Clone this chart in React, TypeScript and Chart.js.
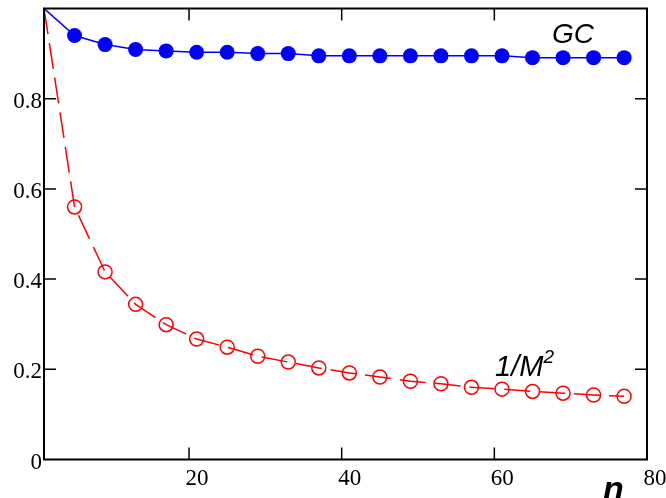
import React, { useEffect, useRef } from "react";
import { Chart, registerables } from "chart.js";

Chart.register(...registerables);

const nValues = [1, 5, 9, 13, 17, 21, 25, 29, 33, 37, 41, 45, 49, 53, 57, 61, 65, 69, 73, 77];
const gcValues = [1.0, 0.940, 0.920, 0.909, 0.906, 0.903, 0.903, 0.900, 0.900, 0.895, 0.895, 0.895, 0.895, 0.895, 0.895, 0.895, 0.891, 0.891, 0.891, 0.891];
const invM2Values = [1.0, 0.560, 0.416, 0.344, 0.299, 0.267, 0.249, 0.229, 0.216, 0.203, 0.192, 0.183, 0.1735, 0.168, 0.160, 0.156, 0.151, 0.147, 0.143, 0.140];
const xTickValues = [20, 40, 60, 80];
const yTickValues = [0, 0.2, 0.4, 0.6, 0.8];
const xMin = 1;
const xMax = 80;
const yMin = 0;
const yMax = 1;

const SERIF = "'Liberation Serif', 'DejaVu Serif', serif";
const SANS = "'Liberation Sans', Arial, sans-serif";

const framePlugin = {
  id: "frameAndTicks",
  afterDatasetsDraw(chart: any) {
    const { ctx, chartArea } = chart;
    const xs = chart.scales.x;
    const ys = chart.scales.y;
    const { left, right, top, bottom } = chartArea;
    ctx.save();
    ctx.strokeStyle = "#000";
    ctx.lineWidth = 1.5;
    const tl = 12;
    xTickValues.forEach((v) => {
      if (v <= xMin || v >= xMax) return;
      const px = xs.getPixelForValue(v);
      ctx.beginPath();
      ctx.moveTo(px, bottom);
      ctx.lineTo(px, bottom - tl);
      ctx.moveTo(px, top);
      ctx.lineTo(px, top + tl);
      ctx.stroke();
    });
    yTickValues.forEach((v) => {
      if (v <= yMin || v >= yMax) return;
      const py = ys.getPixelForValue(v);
      ctx.beginPath();
      ctx.moveTo(left, py);
      ctx.lineTo(left + tl, py);
      ctx.moveTo(right, py);
      ctx.lineTo(right - tl, py);
      ctx.stroke();
    });
    ctx.lineWidth = 2;
    ctx.strokeRect(left, top, right - left, bottom - top);

    // annotations
    ctx.fillStyle = "#000";
    ctx.textBaseline = "alphabetic";
    ctx.font = `italic 28px ${SANS}`;
    ctx.textAlign = "center";
    ctx.fillText("GC", xs.getPixelForValue(70.3), ys.getPixelForValue(0.924));

    ctx.textAlign = "left";
    const mx = xs.getPixelForValue(60.1);
    const my = ys.getPixelForValue(0.1854);
    ctx.font = `italic 29px ${SANS}`;
    ctx.fillText("1/M", mx, my);
    const w = ctx.measureText("1/M").width;
    ctx.font = `italic 19px ${SANS}`;
    ctx.fillText("2", mx + w, my - 13);

    ctx.font = `bold italic 34px ${SANS}`;
    ctx.textAlign = "center";
    ctx.fillText("n", xs.getPixelForValue(75.6), bottom + 40);
    ctx.restore();
  },
};

export default function App() {
  const canvasRef = useRef<HTMLCanvasElement | null>(null);

  useEffect(() => {
    document.body.style.margin = "0";
    const canvas = canvasRef.current;
    if (!canvas) return;
    const chart = new Chart(canvas, {
      type: "line",
      data: {
        datasets: [
          {
            label: "GC",
            data: nValues.map((n, i) => ({ x: n, y: gcValues[i] })),
            borderColor: "#0000ff",
            backgroundColor: "#0000ff",
            borderWidth: 1.5,
            pointRadius: (c: any) => (c.dataIndex === 0 ? 0 : 7.5),
            pointBackgroundColor: "#0000ff",
            pointBorderColor: "#0000ff",
            pointBorderWidth: 0,
            tension: 0,
          },
          {
            label: "1/M2",
            data: nValues.map((n, i) => ({ x: n, y: invM2Values[i] })),
            borderColor: "#ff0000",
            backgroundColor: "rgba(0,0,0,0)",
            borderWidth: 1.5,
            borderDash: [26, 9],
            pointRadius: (c: any) => (c.dataIndex === 0 ? 0 : 7),
            pointBackgroundColor: "rgba(0,0,0,0)",
            pointBorderColor: "#ff0000",
            pointBorderWidth: 1.5,
            tension: 0,
          },
        ],
      },
      options: {
        animation: false,
        responsive: false,
        devicePixelRatio: 1,
        layout: { padding: { top: 7.5, right: 19, left: 0, bottom: 0 } },
        plugins: {
          legend: { display: false },
          tooltip: { enabled: false },
        },
        scales: {
          x: {
            type: "linear",
            min: xMin,
            max: xMax,
            grid: { display: false, drawTicks: false },
            border: { display: false },
            afterBuildTicks: (scale: any) => {
              scale.ticks = xTickValues.map((v) => ({ value: v }));
            },
            afterFit: (scale: any) => {
              scale.height = 38.5;
              scale.paddingLeft = 0;
              scale.paddingRight = 0;
            },
            ticks: {
              autoSkip: false,
              maxRotation: 0,
              padding: 6,
              labelOffset: 8,
              color: "#000",
              font: { family: SERIF, size: 23 },
              callback: (v: any) => String(v),
            },
          },
          y: {
            type: "linear",
            min: yMin,
            max: yMax,
            grid: { display: false, drawTicks: false },
            border: { display: false },
            afterBuildTicks: (scale: any) => {
              scale.ticks = yTickValues.map((v) => ({ value: v }));
            },
            afterFit: (scale: any) => {
              scale.width = 44;
              scale.paddingTop = 0;
              scale.paddingBottom = 0;
            },
            ticks: {
              autoSkip: false,
              padding: 2,
              labelOffset: 3,
              color: "#000",
              font: { family: SERIF, size: 23 },
              callback: (v: any) => (v === 0 ? "0" : Number(v).toFixed(1)),
            },
          },
        },
      },
      plugins: [framePlugin],
    });
    return () => chart.destroy();
  }, []);

  return (
    <div style={{ width: 666, height: 498, background: "#fff" }}>
      <canvas ref={canvasRef} width={666} height={498} style={{ display: "block", width: 666, height: 498 }} />
    </div>
  );
}
